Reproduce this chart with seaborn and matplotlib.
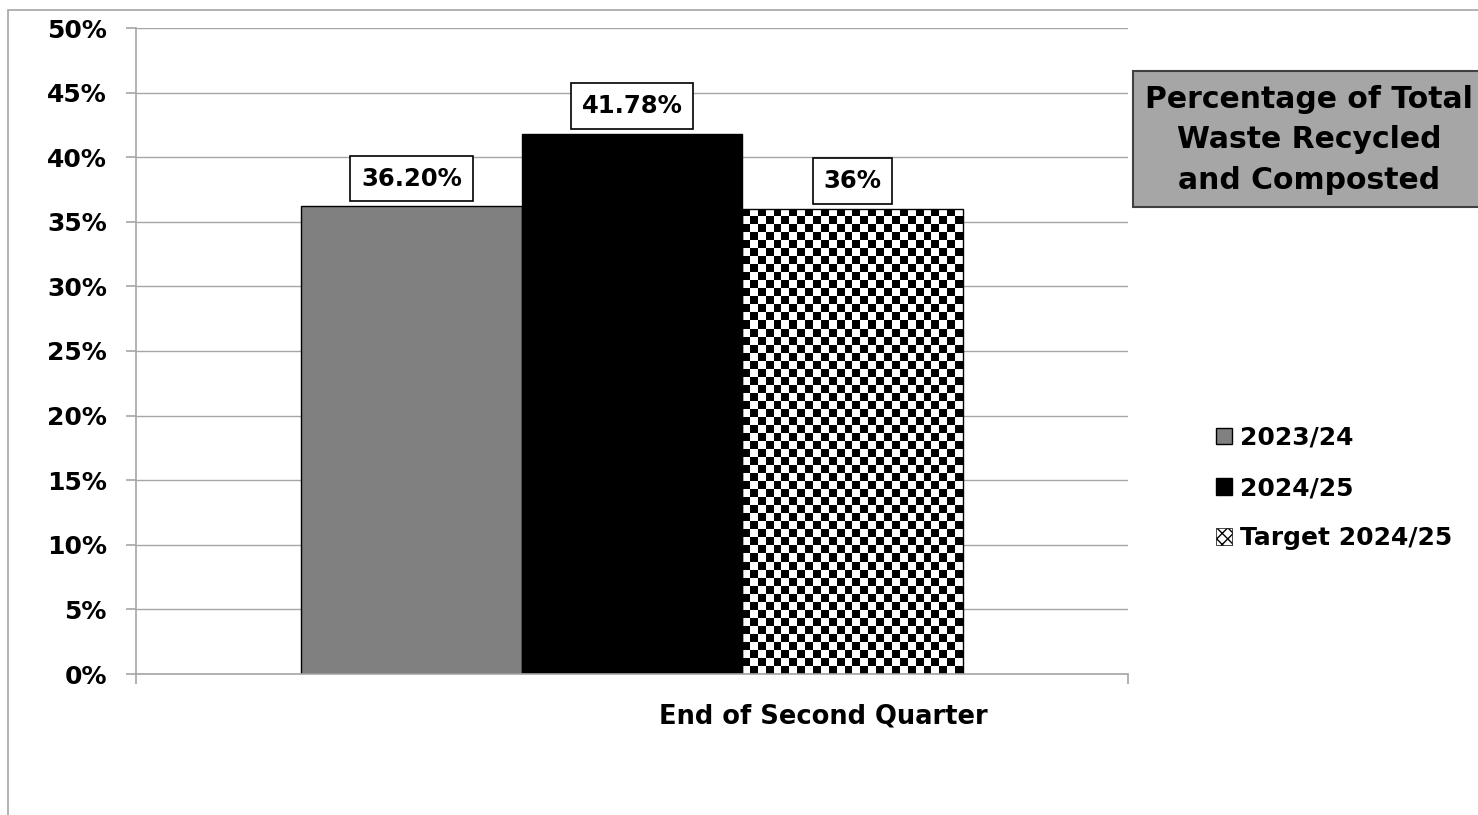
import numpy as np
import pandas as pd
import matplotlib
matplotlib.use("Agg")
import matplotlib.pyplot as plt
import matplotlib.transforms as mtransforms
from matplotlib.patches import Patch, Rectangle
from matplotlib.ticker import PercentFormatter
import seaborn as sns

# ---- data ----
categories = ["End of Second Quarter"]
series = ["2023/24", "2024/25", "Target 2024/25"]
values = [0.3620, 0.4178, 0.36]
value_labels = ["36.20%", "41.78%", "36%"]
title_text = "Percentage of Total\nWaste Recycled\nand Composted"

df = pd.DataFrame({"period": categories * len(series),
                   "series": series,
                   "value": values})

sns.set_theme(style="white")
plt.rcParams["font.family"] = ["DejaVu Sans"]
plt.rcParams["font.weight"] = "bold"
plt.rcParams["text.color"] = "black"
plt.rcParams["axes.labelcolor"] = "black"
plt.rcParams["xtick.color"] = "black"
plt.rcParams["ytick.color"] = "black"

W, H, DPI = 1478, 815, 100
fig = plt.figure(figsize=(W / DPI, H / DPI), dpi=DPI)
ax = fig.add_axes([136 / W, 1 - 674 / H, (1128 - 136) / W, (674 - 28) / H])

GRID = "#A6A6A6"
palette = {"2023/24": "#808080", "2024/25": "#000000", "Target 2024/25": "#FFFFFF"}
sns.barplot(data=df, x="period", y="value", hue="series", hue_order=series,
            palette=palette, width=0.667, gap=0, edgecolor="black", linewidth=1.0,
            legend=False, ax=ax, saturation=1)

ax.set_xlim(-0.5, 0.5)
ax.set_ylim(0, 0.5)
ax.set_yticks(np.arange(0, 0.501, 0.05))
ax.yaxis.set_major_formatter(PercentFormatter(1.0, decimals=0))
ax.yaxis.grid(True, color=GRID, linewidth=1.0)
ax.set_axisbelow(True)
for s in ["top", "right"]:
    ax.spines[s].set_visible(False)
for s in ["left", "bottom"]:
    ax.spines[s].set_color(GRID)
    ax.spines[s].set_linewidth(1.2)
ax.tick_params(axis="y", which="major", length=7, width=1.2, color=GRID,
               left=True, pad=14, labelsize=18, labelcolor="black")
for t in ax.get_yticklabels():
    t.set_fontweight("bold")

# x axis: boundary ticks, category label as minor tick
ax.set_xticks([-0.5, 0.5])
ax.set_xticklabels(["", ""])
ax.tick_params(axis="x", which="major", length=7, width=1.2, color=GRID, bottom=True)
ax.set_xticks([0], minor=True)
ax.set_xticklabels(categories, minor=True)
ax.tick_params(axis="x", which="minor", length=0, pad=21, labelsize=18.5,
               labelcolor="black")
ax.set_xlabel("")
ax.set_ylabel("")
offset = mtransforms.ScaledTranslation(191 / DPI, 0, fig.dpi_scale_trans)
for t in ax.xaxis.get_minorticklabels():
    t.set_transform(t.get_transform() + offset)
    t.set_fontweight("bold")

# checkerboard fill for target bar
target_patch = ax.containers[2].patches[0]
bb = target_patch.get_bbox()
fig.canvas.draw()
p0 = ax.transData.transform((bb.x0, bb.y0))
p1 = ax.transData.transform((bb.x1, bb.y1))
cell = 8.0
nx = max(1, int(round(abs(p1[0] - p0[0]) / cell)))
ny = max(1, int(round(abs(p1[1] - p0[1]) / cell)))
board = (np.add.outer(np.arange(ny), np.arange(nx)) % 2).astype(float)
im = ax.imshow(board, cmap="gray", vmin=0, vmax=1, interpolation="nearest",
               extent=(bb.x0, bb.x1, bb.y0, bb.y1), aspect="auto", zorder=0.95)
im.set_clip_path(target_patch)
target_patch.set_facecolor((1, 1, 1, 0))
target_patch.set_zorder(1.0)
ax.set_xlim(-0.5, 0.5)
ax.set_ylim(0, 0.5)

# value labels
for cont, lab in zip(ax.containers, value_labels):
    anns = ax.bar_label(cont, labels=[lab], padding=20, fontsize=17.5, fontweight="bold",
                        color="black",
                        bbox=dict(boxstyle="square,pad=0.45", facecolor="white",
                                  edgecolor="black", linewidth=1.2))
    for a in anns:
        a.set_va("center")

# title box
fig.patches.append(Rectangle((1133 / W, 1 - 207 / H), (1500 - 1133) / W, 136 / H,
                             transform=fig.transFigure, facecolor="#A6A6A6",
                             edgecolor="#404040", linewidth=1.5))
fig.text(1309 / W, 1 - 140 / H, title_text, ha="center", va="center",
         multialignment="center", fontsize=21.5, fontweight="bold",
         linespacing=1.5, color="black")

# outer frame
fig.patches.append(Rectangle((8 / W, -0.05), 1.1, 1 - 10 / H + 0.05,
                             transform=fig.transFigure, facecolor="none",
                             edgecolor=GRID, linewidth=1.2))

# legend
handles = [Patch(facecolor="#808080", edgecolor="black", linewidth=1.0),
           Patch(facecolor="white", edgecolor="black", linewidth=1.0),
           Patch(facecolor="white", edgecolor="black", hatch="xxx", linewidth=0.5)]
handles[1].set_facecolor("black")
leg = fig.legend(handles, series, loc="center left",
                 bbox_to_anchor=(1216 / W, 1 - 488 / H),
                 frameon=False, prop={"weight": "bold", "size": 18},
                 handlelength=0.65, handleheight=0.65, handletextpad=0.3,
                 labelspacing=1.05, borderpad=0, borderaxespad=0)
for t in leg.get_texts():
    t.set_color("black")

fig.savefig("out.png", dpi=DPI)
